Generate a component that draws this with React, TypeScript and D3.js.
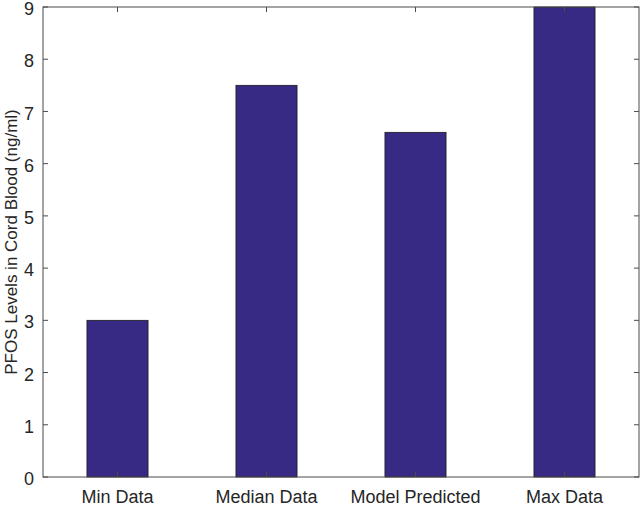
import { scaleBand, scaleLinear } from 'd3';

const categories = ['Min Data', 'Median Data', 'Model Predicted', 'Max Data'];
const values = [3, 7.5, 6.6, 9];
const yTicks = [0, 1, 2, 3, 4, 5, 6, 7, 8, 9];
const yLabel = 'PFOS Levels in Cord Blood (ng/ml)';

const width = 643;
const height = 506;
const margin = { top: 7, right: 4, bottom: 29, left: 43 };
const font = '"Liberation Sans", Arial, sans-serif';

function App() {
  const innerWidth = width - margin.left - margin.right;
  const innerHeight = height - margin.top - margin.bottom;

  const xScale = scaleBand()
    .domain(categories)
    .range([0, innerWidth])
    .paddingInner(0.59)
    .paddingOuter(0.295);

  const yScale = scaleLinear().domain([0, 9]).range([innerHeight, 0]);

  const axisColor = '#4a4a4a';
  const textColor = '#262626';

  return (
    <svg
      width={width}
      height={height}
      style={{ position: 'absolute', left: 0, top: 0, background: '#fff' }}
    >
      <g transform={`translate(${margin.left}, ${margin.top})`}>
        {categories.map((c, i) => (
          <rect
            key={c}
            x={xScale(c)}
            y={yScale(values[i])}
            width={xScale.bandwidth()}
            height={innerHeight - yScale(values[i])}
            fill='#372a84'
            stroke='#1a1a1a'
            strokeWidth={0.8}
          />
        ))}
        <rect
          x={0}
          y={0}
          width={innerWidth}
          height={innerHeight}
          fill='none'
          stroke={axisColor}
          strokeWidth={1}
        />
        {yTicks.map(t => (
          <g key={t} transform={`translate(0, ${yScale(t)})`}>
            <line x2={5} stroke={axisColor} />
            <line x1={innerWidth} x2={innerWidth - 5} stroke={axisColor} />
            <text
              x={-9}
              dy='.45em'
              textAnchor='end'
              fontFamily={font}
              fontSize={18}
              fill={textColor}
            >
              {t}
            </text>
          </g>
        ))}
        {categories.map(c => {
          const cx = xScale(c) + xScale.bandwidth() / 2;
          return (
            <g key={c} transform={`translate(${cx}, 0)`}>
              <line y2={5} stroke={axisColor} />
              <line y1={innerHeight} y2={innerHeight - 5} stroke={axisColor} />
              <text
                y={innerHeight + 26}
                textAnchor='middle'
                fontFamily={font}
                fontSize={18}
                fill={textColor}
              >
                {c}
              </text>
            </g>
          );
        })}
        <text
          transform={`translate(${-26.5}, ${innerHeight / 2}) rotate(-90)`}
          textAnchor='middle'
          fontFamily={font}
          fontSize={17}
          fill={textColor}
        >
          {yLabel}
        </text>
      </g>
    </svg>
  );
}

export default App;
